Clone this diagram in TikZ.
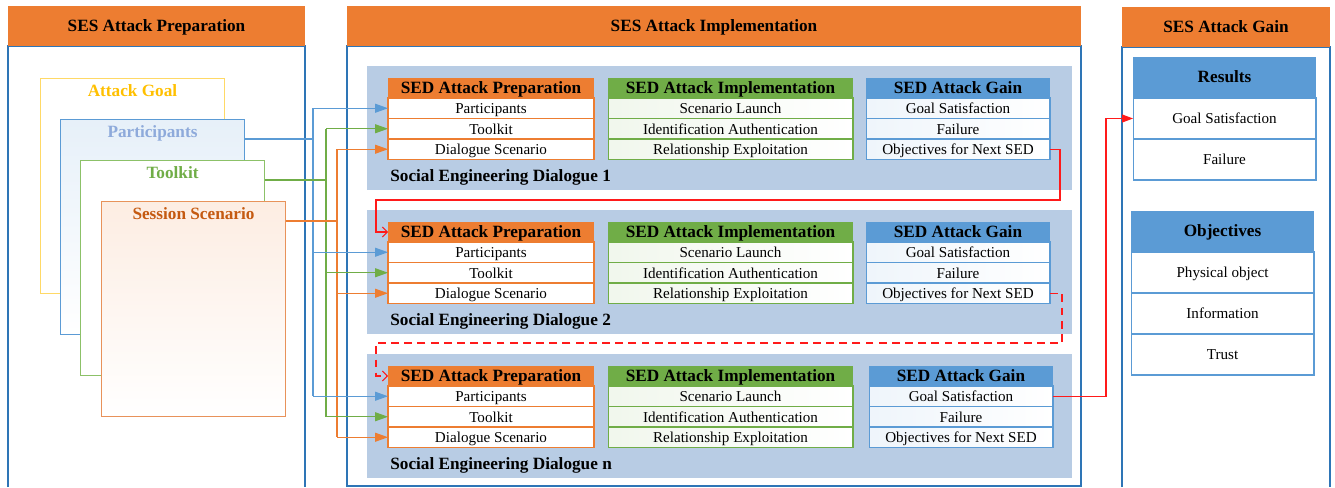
\documentclass[tikz,border=0pt]{standalone}
\usepackage{fontspec}
\setmainfont{Liberation Serif}
\usepackage{xcolor}
\usepackage{tikz}
\usetikzlibrary{positioning,calc,arrows.meta}

\definecolor{hdorange}{HTML}{ED7D31}
\definecolor{hdgreen}{HTML}{70AD47}
\definecolor{hdblue}{HTML}{5B9BD5}
\definecolor{panelblue}{HTML}{2E75B6}
\definecolor{blockbg}{HTML}{B8CCE4}
\definecolor{goldtxt}{HTML}{FFC000}
\definecolor{goldln}{HTML}{FFD966}
\definecolor{parttxt}{HTML}{8EAADB}
\definecolor{toolln}{HTML}{8CC168}
\definecolor{sesstxt}{HTML}{C55A11}
\definecolor{sessln}{HTML}{E8925A}
\definecolor{redln}{HTML}{FF1A1A}

\tikzset{
  bigfont/.style={font=\fontsize{9.8}{11}\selectfont\bfseries, text height=0.7em, text depth=0.1em},
  smallfont/.style={font=\fontsize{8.6}{10}\selectfont, text height=0.7em, text depth=0.1em},
  panelhead/.style={bigfont, fill=hdorange, minimum height=0.8cm, inner sep=0pt, outer sep=0pt},
  panelbox/.style={draw=panelblue, line width=0.8pt},
  colhead/.style={bigfont, minimum height=0.4cm, inner sep=0pt, outer sep=0pt},
  cell/.style={smallfont, draw, fill=white, minimum height=0.41cm, inner sep=0pt, outer sep=0pt, line width=0.6pt},
  prepcell/.style={cell, draw=hdorange, minimum width=4.12cm},
  implcell/.style={cell, draw=hdgreen, left color=hdgreen!10, right color=white, minimum width=4.9cm},
  gaincell/.style={cell, draw=hdblue, left color=hdblue!10, right color=white, minimum width=3.68cm},
  reshead/.style={bigfont, fill=hdblue, minimum width=3.66cm, minimum height=0.82cm, inner sep=0pt, outer sep=0pt},
  rescell/.style={cell, draw=hdblue, minimum width=3.66cm, minimum height=0.82cm},
  card/.style={draw, fill=white, anchor=north west, minimum width=3.68cm, minimum height=4.3cm, line width=0.6pt},
  cardtitle/.style={bigfont},
  feed/.style={line width=0.6pt},
  tip/.style={-{Triangle[length=0.26cm,width=0.18cm]}},
  redline/.style={draw=redln, line width=0.6pt}
}

\begin{document}
\begin{tikzpicture}[x=0.02cm,y=-0.02cm]
    \useasboundingbox (0,0) rectangle (1335,487);

    % three panels
    \draw[panelbox] (8,487) |- (305,46) -- (305,487);
    \node[panelhead, minimum width=5.94cm] (hprep) at (156.5,26) {SES Attack Preparation};
    \draw[panelbox] (347,46) rectangle (1081,486);
    \node[panelhead, minimum width=14.68cm] (himpl) at (714,26) {SES Attack Implementation};
    \draw[panelbox] (1122,487) |- (1330,47) -- (1330,487);
    \node[panelhead, minimum width=4.16cm] (hgain) at (1226,27) {SES Attack Gain};

    % stacked cards
    \node[card, draw=goldln] (gcard) at (40,78) {};
    \node[cardtitle, text=goldtxt] (glab) at ([yshift=-0.26cm]gcard.north) {Attack Goal};
    \node[card, draw=hdblue, top color=hdblue!15, bottom color=white] (pcard) at (60,119) {};
    \node[cardtitle, text=parttxt] (plab) at ([yshift=-0.26cm]pcard.north) {Participants};
    \node[card, draw=toolln] (tcard) at (80,160) {};
    \node[cardtitle, text=hdgreen] (tlab) at ([yshift=-0.26cm]tcard.north) {Toolkit};
    \node[card, draw=sessln, top color=hdorange!14, bottom color=white] (scard) at (101,201) {};
    \node[cardtitle, text=sesstxt] (slab) at ([yshift=-0.26cm]scard.north) {Session Scenario};

    % dialogues
    \foreach \k/\dy/\lab/\gx in {1/0/1/958, 2/144/2/958, 3/288/n/961} {
        \fill[blockbg] (367,66+\dy) rectangle (1072,190+\dy);
        \node[colhead, fill=hdorange, minimum width=4.12cm] (prep\k) at (491,88+\dy) {SED Attack Preparation};
        \node[prepcell, below=0pt of prep\k] (pa\k) {Participants};
        \node[prepcell, below=0pt of pa\k] (tk\k) {Toolkit};
        \node[prepcell, below=0pt of tk\k] (ds\k) {Dialogue Scenario};
        \node[colhead, fill=hdgreen, minimum width=4.9cm] (impl\k) at (730.5,88+\dy) {SED Attack Implementation};
        \node[implcell, below=0pt of impl\k] (sl\k) {Scenario Launch};
        \node[implcell, below=0pt of sl\k] (ia\k) {Identification Authentication};
        \node[implcell, below=0pt of ia\k] (rx\k) {Relationship Exploitation};
        \node[colhead, fill=hdblue, minimum width=3.68cm] (gain\k) at (\gx,88+\dy) {SED Attack Gain};
        \node[gaincell, below=0pt of gain\k] (gs\k) {Goal Satisfaction};
        \node[gaincell, below=0pt of gs\k] (fl\k) {Failure};
        \node[gaincell, below=0pt of fl\k] (ob\k) {Objectives for Next SED};
        \node[bigfont, anchor=west, inner sep=0pt] (dlg\k) at (390,176+\dy) {Social Engineering Dialogue \lab};
    }

    % results and objectives
    \node[reshead] (res) at (1224.5,77.5) {Results};
    \node[rescell, below=0pt of res] (rgs) {Goal Satisfaction};
    \node[rescell, below=0pt of rgs] (rfl) {Failure};
    \node[reshead] (obj) at (1222.5,231.5) {Objectives};
    \node[rescell, below=0pt of obj] (phy) {Physical object};
    \node[rescell, below=0pt of phy] (inf) {Information};
    \node[rescell, below=0pt of inf] (tru) {Trust};

    % feeds from the cards
    \coordinate (pt) at (313,0);
    \coordinate (gt) at (326,0);
    \coordinate (st) at (337,0);
    \coordinate (pout) at ([yshift=-0.4cm]pcard.north east);
    \coordinate (tout) at ([yshift=-0.4cm]tcard.north east);
    \coordinate (sout) at ([yshift=-0.4cm]scard.north east);
    \draw[feed, hdblue] (pout) -- (pout -| pt);
    \draw[feed, hdblue] (pa1.west -| pt) -- (pa3.west -| pt);
    \draw[feed, hdgreen] (tout) -- (tout -| gt);
    \draw[feed, hdgreen] (tk1.west -| gt) -- (tk3.west -| gt);
    \draw[feed, hdorange] (sout) -- (sout -| st);
    \draw[feed, hdorange] (ds1.west -| st) -- (ds3.west -| st);
    \foreach \k in {1,2,3} {
        \draw[feed, tip, hdblue] (pa\k.west -| pt) -- (pa\k.west);
        \draw[feed, tip, hdgreen] (tk\k.west -| gt) -- (tk\k.west);
        \draw[feed, tip, hdorange] (ds\k.west -| st) -- (ds\k.west);
    }

    % links between dialogues
    \coordinate (ra) at (1060,200);
    \coordinate (rb) at (376,200);
    \draw[redline, -{Straight Barb[length=0.1cm,width=0.2cm]}] (ob1.east) -| (ra) -- (rb) |- (prep2.west);
    \coordinate (rc) at (1062,343);
    \coordinate (rd) at (376,343);
    \draw[redline, dash pattern=on 4.5pt off 3pt, -{Straight Barb[length=0.1cm,width=0.2cm]}] (ob2.east) -| (rc) -- (rd) |- (prep3.west);
    \coordinate (re) at (1106,300);
    \draw[redline, -{Triangle[length=0.22cm,width=0.16cm]}] (gs3.east) -| (re) |- (rgs.west);
\end{tikzpicture}
\end{document}
